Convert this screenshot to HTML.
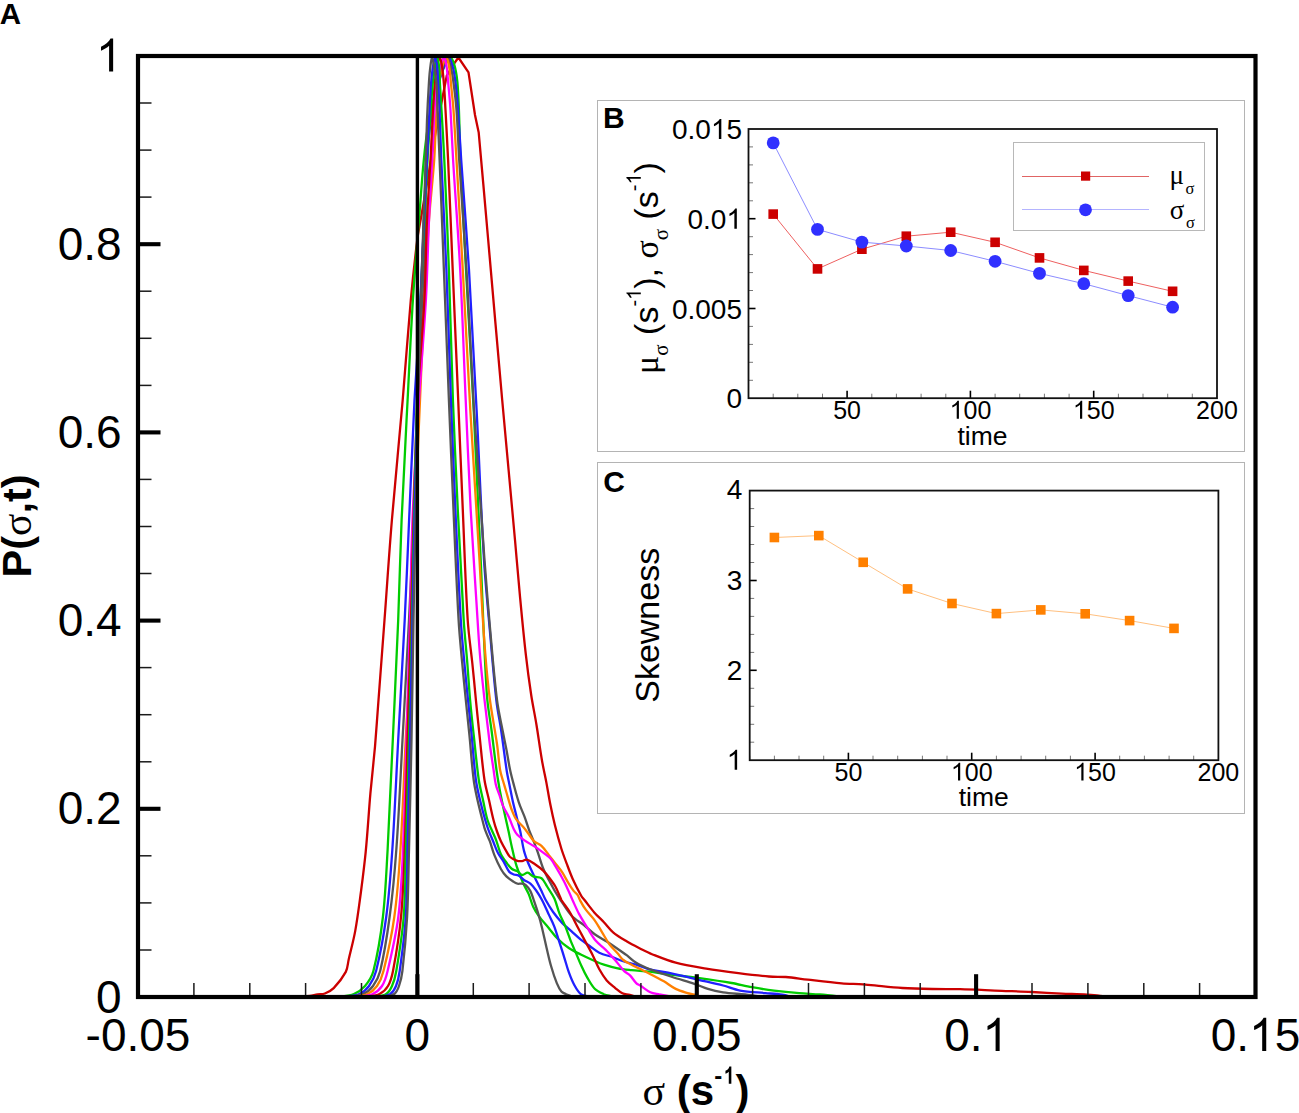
<!DOCTYPE html><html><head><meta charset="utf-8"><title>P(sigma,t)</title><style>html,body{margin:0;padding:0;background:#fff;}svg{display:block;}text{font-family:"Liberation Sans",sans-serif;}.sf{font-family:"Liberation Serif",serif;}</style></head><body>
<svg width="1299" height="1113" viewBox="0 0 1299 1113">
<rect x="0" y="0" width="1299" height="1113" fill="#fff"/>
<g fill="none" stroke-width="2.3" stroke-linejoin="round" stroke-linecap="round">
<path d="M290,996.8C293.3,996.7 296.7,996.6 300,996.5C303.3,996.4 306.7,996.4 310,996C312.5,995.7 315,994.8 317.5,994.4C319.9,994 322.6,994.4 324.9,993.5C328,992.3 331.3,990.5 333.7,988.1C338.3,983.3 342.7,977.7 345.8,971.9C347.7,968.3 347.7,963.9 348.6,959.9C350.8,950.3 353.4,940.8 355.2,931.1C357.6,918 359.2,904.7 361,891.5C362.7,878.3 364.4,865.1 365.7,851.8C367.6,832.4 368.7,812.9 370.4,793.4C371.8,777.8 373.6,762.3 375,746.7C376.3,731.1 377.3,715.6 378.5,700C380.5,673.3 382.5,646.7 384.5,620C387,586.7 389.1,553.3 391.9,520C395.2,480 399.3,440 402.7,400C405.6,366.7 407.8,333.3 410.8,300C412.7,279.3 414.9,258.6 417.5,238C418.5,230.3 420.2,222.7 421.5,215C424.7,196.7 427.9,178.3 431,160C432.7,150 434.3,140 436,130 L442.6,97 L446.7,75.9 L452.3,66.2 L458.4,57.5 L468.5,72.3 L475,115 L478.7,132.5C481.9,168.3 485.1,204.2 488.2,240C492.9,293.3 497.4,346.7 502.2,400C506.4,446.7 510.8,493.3 515,540C516.7,559.2 518.3,578.4 520.1,597.6C521.9,616.8 523.7,636 525.9,655.1C527.4,668.4 529.2,681.7 531.2,695C532.7,705 534.9,715 536.5,725C538.4,736.6 539.9,748.4 541.9,760C543.1,767.2 544.8,774.4 546.2,781.6C547.7,789.5 548.9,797.4 550.5,805.3C551.8,811.8 553.2,818.3 554.8,824.7C556.8,832.7 558.9,840.6 561.3,848.5C562.9,853.6 564.8,858.6 566.7,863.6C568.6,868.7 570.4,873.8 572.6,878.7C575.2,884.5 578.1,890.2 581.2,895.7C582.1,897.3 583.4,898.6 584.5,900C587.9,904.3 591.1,908.8 594.7,912.9C597.6,916.2 600.9,919 603.9,922.2C607,925.5 609.6,929.4 613.1,932.3C617.3,935.9 622.2,938.7 627,941.6C631.5,944.3 636.2,946.6 640.9,949C644.5,950.8 648.2,952.7 652,954.2C659.8,957.3 667.6,960.6 675.7,962.7C685.7,965.4 696,966.9 706.2,968.6C716.9,970.4 727.6,971.8 738.4,973.2C748.5,974.5 758.7,975.7 768.9,976.5C774.5,977 780.2,976.6 785.8,977C793.2,977.6 800.5,978.8 807.8,979.6C819.1,980.9 830.4,982.3 841.7,983.3C848.8,983.9 856,983.8 863.1,984.3C869.3,984.7 875.4,985.6 881.6,986.2C888.5,986.9 895.5,987.6 902.4,988C912.4,988.6 922.4,988.8 932.4,989C941.6,989.2 950.9,989 960.1,989.2C974,989.6 987.8,990.3 1001.7,990.8C1011.7,991.2 1021.7,991.5 1031.7,992C1041.7,992.5 1051.7,993.1 1061.7,993.6C1070.2,994 1078.6,994.2 1087.1,994.7C1091.4,994.9 1095.7,995.4 1100,995.8C1103.3,996.1 1106.7,996.6 1110,997" stroke="#cc0000"/>
<path d="M330,996.8C333.3,996.7 336.7,996.9 340,996.5C344.7,996 349.7,995.8 353.9,994C358,992.3 362.1,989.4 365,986C368.6,981.7 372,976.5 373.4,971C377.9,953.5 380.8,935.1 382.9,917C385.5,894.8 386.3,872.4 387.6,850C389.6,813.4 391.1,776.7 392.8,740C394.6,700 396.6,660 398.2,620C399.5,586.7 400.2,553.3 401.6,520C403.3,480 405.5,440 407.6,400C409.3,366.7 410.8,333.3 412.9,300C414.6,273.3 416.9,246.7 419,220C420.6,200 421.8,180 423.8,160C425.1,146.6 426.7,133.2 429,120C430.8,109.9 433.3,99.9 436,90C437.7,83.9 439.5,77.8 442,72C444.2,67 447.6,57.5 450,57.5C452.3,57.5 455,66.9 456,72C457.8,81.1 458,90.6 458.5,100C459.5,120 459.6,140 460.5,160C462.1,196.7 464.1,233.3 466,270C468.5,316.7 471.3,363.3 473.7,410C476.2,460 478.4,510 480.7,560C482.8,605 484,650.1 486.9,695C487.6,706.7 490,718.3 491.5,730C493.2,743.3 494.7,756.7 496.5,770C497.3,776 498.3,782 499.4,788C500.2,792.8 501.2,797.5 502.2,802.3C503.2,807.1 504.3,811.9 505.3,816.7C506.4,821.5 507.5,826.3 508.5,831.1C509.7,836.6 510.7,842.2 512,847.7C513.4,853.9 514.7,860.1 516.6,866.2C518.4,871.8 520.6,877.4 523,882.8C524.6,886.6 527,890.1 528.6,893.9C530.4,898.1 531.3,902.7 533.2,906.8C534.8,910.3 536.9,913.5 539.2,916.6C542,920.5 545.4,924 548.5,927.7C551.6,931.4 554.3,935.4 557.7,938.8C561.1,942.2 564.8,945.3 568.8,948C572.5,950.5 576.7,952.5 580.8,954.5C585.4,956.8 590,958.9 594.7,961C597.7,962.3 600.8,963.7 603.9,964.7C608.5,966.2 613.1,967.5 617.8,968.4C622.3,969.3 627,969.7 631.6,970.2C637.7,970.8 643.9,970.9 650,971.6C654.7,972.1 659.3,973.1 663.9,973.7C675.2,975.2 686.5,976.4 697.7,977.9C709,979.5 720.3,981.1 731.6,983C738.4,984.2 745.1,986 751.9,987.2C759.2,988.5 766.6,989.7 774,990.6C782.4,991.6 790.9,992.4 799.3,993.1C806.2,993.7 813.1,993.9 820,994.5C826.7,995.1 833.3,995.8 840,996.5" stroke="#00cc00"/>
<path d="M335,996.8C338.3,996.7 341.7,996.9 345,996.5C349.8,995.9 355,995.9 359.3,994C363,992.4 366.6,989.3 369,986C372.2,981.6 374.8,976.3 376.1,971C380.5,953.3 383.8,935.1 386.2,917C389.2,894.8 390.8,872.4 392.3,850C394.8,813.4 396.2,776.7 398.2,740C400.4,700 402.7,660 404.7,620C406.4,586.7 407.6,553.3 409.1,520C410.9,480 412.4,440 414.5,400C416.3,366.6 419,333.4 420.8,300C422.2,273.4 422.9,246.7 424,220C424.8,200 425.1,180 426.5,160C427.4,146.6 429,133.3 431,120C432.5,109.9 434.7,99.9 437,90C438.4,83.9 439.9,77.9 442,72C443.8,67 446.4,58.3 448.5,57.5C450,56.9 452,64.3 453,68C454.5,73.5 455.1,79.3 455.8,85C456.8,93.3 457.4,101.7 458,110C459.2,126.7 460.1,143.3 461.2,160C463.7,196.7 466.7,233.3 469,270C471.9,316.6 474.2,363.3 476.6,410C479.2,460 481,510 484,560C485.4,583.4 487.8,606.7 489.8,630C491.9,653.3 493.7,676.7 496.3,700C497.4,710.1 499.6,720 501.1,730C503.1,743.3 504.6,756.7 506.6,770C507.3,774.8 508.4,779.6 509.4,784.4C510.6,790.4 511.7,796.4 513,802.3C514.1,807.1 515.4,811.9 516.6,816.7C517.8,821.5 519.2,826.3 520.2,831.1C521.6,837.4 522.3,843.8 523.8,850C524.6,853.4 525.8,856.7 527,860C528,862.7 529.2,865.4 530.4,868C532.2,872 534.1,876 536,880C537.8,883.7 539.7,887.4 541.5,891.1C542.9,894.1 544.1,897.1 545.7,900C548,904.1 550.4,908.2 553.1,912C555.9,915.9 559,919.6 562.3,923.1C565.2,926.1 568.5,928.6 571.6,931.4C574.7,934.2 577.6,937.1 580.8,939.7C583.7,942 586.9,944 590,946.2C593.1,948.4 595.9,951.1 599.3,952.7C603.6,954.8 608.5,955.7 613.1,957.3C616.2,958.4 619.2,960 622.4,961C626.9,962.5 631.7,963.3 636.2,964.7C639.9,965.8 643.3,967.7 647,968.6C655.3,970.7 663.9,971.9 672.3,973.7C680.8,975.5 689.2,977.6 697.7,979.6C706.2,981.6 714.7,983.3 723.1,985.5C728.8,987 734.3,989.6 740.1,990.6C748.4,992.1 757,992.3 765.5,993.1C771.1,993.6 776.8,993.9 782.4,994.7C785.6,995.2 788.8,996.2 792,997" stroke="#2020ff"/>
<path d="M340,996.8C343.3,996.7 346.7,996.9 350,996.5C354.5,996 359.3,995.8 363.3,994C367,992.3 370.6,989.3 373,986C376.2,981.6 378.9,976.4 380.2,971C384.4,953.4 387.2,935.1 389.6,917C392.6,894.8 394.7,872.4 396.3,850C399,813.4 400.5,776.7 402.5,740C404.7,700 407,660 409,620C410.7,586.7 412.1,553.3 413.5,520C415.2,480 416.8,440 418.5,400C419.9,366.7 421.7,333.3 423,300C424,273.3 424.9,246.7 425.5,220C425.9,200 425.1,180 426,160C426.6,146.6 428.1,133.2 430,120C431.4,109.9 433.7,99.9 436,90C437.4,83.9 439,77.9 441,72C442.7,67.1 445.1,58.3 447,57.5C448.4,56.9 450.1,64.4 451,68C452.4,73.5 453.1,79.3 453.8,85C454.9,93.3 455.9,101.6 456.5,110C457.7,126.6 458.2,143.3 459.2,160C461.5,196.7 464.3,233.3 466.5,270C469.3,316.7 471.1,363.4 474,410C477.1,460 480.8,510 484.5,560C486.2,583.3 488.1,606.7 490.2,630C492.3,653.3 494.1,676.7 497,700C498.2,710.1 500.6,720 502.5,730C503.8,736.7 505.2,743.3 506.5,750C507.8,756.7 508.7,763.4 510.1,770C511.1,774.8 512.4,779.6 513.7,784.4C515.3,790.4 516.8,796.4 518.8,802.3C520.4,807.2 522.7,811.9 524.5,816.7C526.3,821.5 527.7,826.3 529.5,831.1C530.9,834.7 532.5,838.2 533.9,841.8C535.3,845.3 536.6,848.8 537.8,852.3C539.7,857.8 541.2,863.6 543.4,869C544.9,872.8 547,876.4 548.9,880C551,884 553.1,888.1 555.4,892C557,894.7 558.7,897.4 560.5,900C564.1,905.3 567.3,911.1 571.6,915.7C575,919.4 579.7,921.8 583.6,924.9C587.4,927.9 590.8,931.4 594.7,934.2C598.5,936.9 602.7,939.1 606.7,941.6C610.4,944 614.1,946.5 617.8,949C620.9,951.1 624,953.2 627,955.4C630.1,957.8 632.9,960.8 636.2,962.8C640.5,965.4 645.3,967.4 650,969.3C657.3,972.2 664.8,974.6 672.3,977C679.6,979.4 687.1,981.4 694.4,983.8C699,985.3 703.3,987.5 707.9,988.9C712.9,990.4 718,991.5 723.1,992.3C730.4,993.4 737.8,993.7 745.2,994.5C750.1,995.1 755.1,995.8 760,996.5" stroke="#555555"/>
<path d="M345,996.8C348.3,996.7 351.7,996.9 355,996.5C359.2,996 363.7,995.8 367.4,994C371,992.3 374.7,989.3 377,986C380,981.7 382.2,976.3 383.5,971C387.9,953.3 391.8,935.2 394.3,917C397.4,894.8 399,872.4 400.4,850C402.8,813.4 403.9,776.7 405.7,740C407.7,700 410.3,660 412,620C413.4,586.7 413.8,553.3 415,520C416.5,480 418.3,440 420,400C421.4,366.7 422.8,333.3 424.5,300C425.8,273.3 427.2,246.6 429,220C430.4,200 432.8,180 434.2,160C435.1,146.7 435.3,133.3 436,120C436.5,110 437,100 438,90C438.6,84 439.6,77.9 441,72C442.2,67.1 444.3,58.8 446,57.5C447,56.8 448.5,63.1 449,66C450.2,72.2 450.5,78.7 451.1,85C452,93.3 452.9,101.7 453.5,110C454.7,126.7 455.5,143.3 456.5,160C458.6,196.7 460.8,233.3 462.8,270C465.4,316.7 467.6,363.3 470.3,410C473.2,460 476.5,510 479.5,560C480.3,573.3 480.9,586.7 481.7,600C482.8,618 483.8,636 485.3,654C486.5,669 487.9,684.1 489.8,699C491.8,714.1 494.8,729 497,744C498.3,752.6 498.7,761.4 500.1,770C500.7,773.7 502,777.2 503,780.8C504.2,784.9 505.4,788.9 506.6,793C508.2,798.5 509.7,804.1 511.6,809.5C512.8,812.7 514,816.1 515.9,818.9C517.8,821.8 520.8,824.1 523.1,826.8C524.9,828.9 526.5,831 528.1,833.2C530.1,835.8 531.6,838.9 533.9,841.1C536,843.1 539.3,843.9 541.5,845.9C544.3,848.5 546.5,852 548.9,855.1C551.1,857.9 553.2,860.6 555.4,863.4C557.5,866.2 559.9,868.8 561.8,871.7C564.2,875.3 566,879.2 568.3,882.8C570,885.6 571.8,888.5 573.8,891.1C574.9,892.5 576.5,893.4 577.5,894.8C578.6,896.4 579,898.3 579.9,900C581.6,903.1 583.3,906.3 585.4,909.2C588.2,913.1 591.9,916.4 594.7,920.3C597.4,924.1 599.6,928.3 602.1,932.3C604.5,936.3 606.6,940.5 609.4,944.3C611.9,947.6 615,950.5 617.8,953.6C619.7,955.7 621.1,958.3 623.3,960C625.7,962 628.8,963.2 631.6,964.7C634.7,966.3 637.8,967.8 640.9,969.3C643.9,970.8 647,972.3 650,973.9C654.7,976.3 659.4,978.7 663.9,981.3C667.9,983.7 671.5,986.8 675.7,988.9C679.4,990.8 683.6,991.9 687.6,993.1C689.8,993.8 692.2,994 694.4,994.7C696.3,995.3 698.1,996.2 700,997" stroke="#ff8000"/>
<path d="M350,996.8C353.3,996.7 356.7,996.9 360,996.5C364.3,996 368.9,995.8 372.7,994C376.3,992.3 379.8,989.3 382,986C384.8,981.7 386.4,976.2 387.6,971C391.8,953.2 396,935.2 398.3,917C401.1,894.8 402,872.4 403,850C404.7,813.4 405.4,776.7 406.5,740C407.7,700 408.9,660 410,620C410.9,586.7 411.1,553.3 412.5,520C414.1,480 416.6,440 419,400C421,366.7 424,333.4 425.9,300C427.4,273.4 427.8,246.7 429,220C429.9,200 431.2,180 432.2,160C432.9,146.7 433.3,133.3 434,120C434.5,110 435,100 436,90C436.6,84 437.6,77.9 439,72C440.2,67.1 442.4,58.8 444,57.5C444.9,56.8 446,63.1 446.5,66C447.5,72.3 447.8,78.7 448.4,85C449.2,93.3 450,101.7 450.5,110C451.5,126.7 452.1,143.3 453.1,160C455.3,196.7 458.3,233.3 460.2,270C462.5,313.3 463.8,356.7 465.7,400C467.3,436.7 468.8,473.3 470.7,510C472.3,540 474.4,570 476.3,600C477.5,618 478.4,636 479.9,654C481.1,669 482.8,684 484.4,699C486.1,714 487.9,729 489.8,744C490.9,752.7 492.3,761.3 493.6,770C494.3,774.8 494.7,779.7 495.8,784.4C496.6,788 498.2,791.5 499.4,795C500.6,798.6 501.5,802.4 503,805.9C504.6,809.6 507,813 508.7,816.7C510.6,820.7 511.8,824.9 513.7,828.9C514.7,830.9 515.8,833.1 517.3,834.7C519.4,836.9 522,838.7 524.5,840.4C527.5,842.5 530.8,844.2 533.9,846.1C535.2,846.9 536.5,847.7 537.8,848.6C540.3,850.4 542.8,852.3 545.2,854.2C547.1,855.7 549.2,857 550.7,858.8C552.6,861 553.9,863.7 555.4,866.2C557.6,869.9 559.8,873.6 561.8,877.3C563.5,880.3 565,883.4 566.5,886.5C568.1,889.9 569.6,893.3 571.1,896.7C571.6,897.8 572,898.9 572.5,900C574.6,904.6 576.6,909.4 579,913.9C581.5,918.6 584.5,923.1 587.3,927.7C590,932 592.4,936.7 595.6,940.6C598.5,944.1 602.5,946.7 605.7,949.9C608.9,953.1 612,956.6 615,960C618.2,963.6 620.9,967.7 624.2,971.1C625.9,972.8 628.3,973.7 630,975.4C632.3,977.7 633.9,980.8 636.2,983.1C637.3,984.2 638.9,984.7 640.2,985.5C643.6,987.7 646.7,990.6 650.3,992.3C653.1,993.6 656.5,993.8 659.6,994.5C663.1,995.2 666.5,995.8 670,996.5" stroke="#ff00ff"/>
<path d="M358,996.8C361.3,996.7 364.7,996.9 368,996.5C371.9,996 376.2,995.8 379.5,994C382.8,992.3 386.1,989.3 388,986C390.6,981.6 392,976.2 393,971C396.4,953.2 399.3,935.1 401,917C403.2,894.8 403.9,872.3 404.7,850C406,813.3 406.5,776.7 407.5,740C408.6,700 409.9,660 411,620C411.9,586.7 412.5,553.3 413.5,520C414.7,480 415.5,440 417.5,400C419.2,366.6 422.6,333.4 424.4,300C425.8,273.4 425.8,246.7 427,220C427.9,200 429.4,180 430.5,160C431.2,146.7 431.8,133.3 432.5,120C433.1,108.3 433.7,96.6 434.6,85C435,80 435.6,75 436.5,70C437.3,65.8 438.4,58.3 439.5,57.5C440.2,57 441.5,63.1 442,66C443,72.3 443.5,78.7 444,85C444.7,93.3 445,101.7 445.5,110C446.4,126.7 447.3,143.3 448.1,160C449.7,196.7 451.2,233.3 452.7,270C454.5,313.3 456.4,356.7 458.2,400C459.7,436.7 461.2,473.3 462.8,510C464.4,546.7 465.4,583.4 467.7,620C468.6,634.4 470.8,648.7 472.3,663C473.6,675.3 474.7,687.7 475.9,700C477.1,711.7 478.2,723.3 479.5,735C481.1,750 482.3,765.1 484.5,780C485.5,786.8 487.5,793.3 489,800C490.5,806.7 491.8,813.4 493.5,820C494.5,824.1 495.8,828.1 497.2,832C498.3,835.1 499.5,838.2 500.9,841.2C502.6,844.7 504.5,848.1 506.4,851.4C507.5,853.3 508.5,855.5 510.1,857C511.9,858.6 514.3,859.8 516.6,860.6C518.3,861.2 520.3,861.3 522.1,861.1C523.7,861 525.3,859.3 526.7,859.7C529.6,860.4 532.4,862.6 535,864.3C537.9,866.3 540.8,868.4 543.4,870.8C545.5,872.7 547.2,875 548.9,877.3C551.2,880.3 553.5,883.3 555.4,886.5C557.2,889.7 558.5,893.3 560,896.7C560.5,897.8 560.8,899 561.4,900C564,904.1 567.2,907.8 569.7,912C572.7,917.1 575.2,922.5 578,927.7C580.5,932.3 582.9,937 585.4,941.6C587.9,946.2 590.5,950.7 592.8,955.4C595.1,960 596.8,964.8 599.3,969.3C601.5,973.2 603.8,977 606.7,980.4C609.1,983.2 612.1,985.4 615,987.8C617.4,989.7 619.7,992 622.4,993.3C624.6,994.4 627.4,994.2 629.8,994.9C631.9,995.5 633.9,996.3 636,997" stroke="#cc0000"/>
<path d="M366,996.8C369.3,996.7 372.7,997 376,996.5C379.4,996 383.5,995.8 386.2,994C388.8,992.3 390.7,989 392,986C394.1,981.3 395.4,976.1 396.3,971C399.3,953.1 402.3,935.1 403.7,917C405.5,894.8 405.3,872.3 406,850C407.1,813.3 408,776.7 409,740C410,700 411.1,660 412,620C412.8,586.7 413.2,553.3 414,520C414.9,480 415.8,440 417,400C418,366.7 419.1,333.3 420.5,300C421.6,273.3 423.2,246.7 424.5,220C425.5,200 426.4,180 427.5,160C428.2,146.7 429.1,133.3 430,120C430.8,108.3 431.6,96.6 432.6,85C433.1,80 433.7,75 434.5,70C435.2,65.8 436.1,58.3 437,57.5C437.6,57 438.7,63.1 439,66C439.7,72.3 439.6,78.7 440,85C440.5,93.3 441,101.7 441.5,110C442.5,126.7 443.5,143.3 444.3,160C446,196.7 447.6,233.3 448.9,270C450.5,313.3 451.3,356.7 452.9,400C454.3,436.7 456,473.3 457.8,510C459.6,546.7 461.4,583.4 463.7,620C464.6,634.4 466.2,648.7 467.3,663C468.3,675.3 469,687.7 470.1,700C471.1,711.7 472.4,723.3 473.7,735C475.3,750 476.7,765.1 478.8,780C479.8,786.7 481.6,793.3 483,800C484.5,806.7 485.5,813.5 487.5,820C488.7,824.1 490.9,828 492.6,832C493.8,834.8 495.1,837.5 496.2,840.3C497.9,844.9 498.9,849.8 500.9,854.2C502.3,857.2 504.4,859.9 506.4,862.5C508.1,864.8 509.8,867.3 512,869C513.5,870.2 515.8,870.3 517.5,871.3C519.2,872.3 520.4,874.8 522.1,875C523.8,875.2 525.9,872.5 527.7,872.7C529.6,872.9 531.2,875.6 533.2,876.4C535.8,877.4 539.4,876.7 541.5,878.2C544,880 545.3,883.7 547.1,886.5C549.6,890.5 552.5,894.3 554.4,898.5C556.6,903.4 557.6,908.9 559.6,913.9C561.2,918 563.4,921.8 565.1,925.9C567.1,930.7 568.7,935.7 570.6,940.6C572.4,945 574.3,949.3 576.2,953.6C578,957.9 579.7,962.3 581.7,966.5C583.4,970.3 585.2,974 587.3,977.6C589.5,981.4 591.6,985.6 594.7,988.7C597.2,991.2 600.7,992.7 603.9,994.2C606.4,995.3 609.3,995.7 612,996.5" stroke="#00cc00"/>
<path d="M372,996.8C375,996.7 378.1,997 381,996.5C384.2,996 387.8,995.7 390.3,994C392.8,992.2 394.8,989 396,986C397.9,981.3 399,976.1 399.7,971C402.2,953.1 404.6,935.1 405.8,917C407.2,894.7 407,872.3 407.5,850C408.4,813.3 409.2,776.7 410,740C410.9,700 411.7,660 412.5,620C413.2,586.7 413.7,553.3 414.5,520C415.4,480 416.4,440 417.5,400C418.4,366.7 419.3,333.3 420.5,300C421.5,273.3 422.8,246.7 424,220C424.9,200 426,180 427,160C427.7,146.7 428.3,133.3 429,120C429.6,108.3 430.1,96.7 430.9,85C431.3,80 431.8,75 432.5,70C433.1,65.8 434.1,58.3 435,57.5C435.6,57 436.7,63.1 437,66C437.8,72.3 437.9,78.7 438.3,85C438.8,93.3 439.2,101.7 439.5,110C440.2,126.7 440.6,143.3 441.3,160C442.9,196.7 444.9,233.3 446.4,270C448.1,313.3 449.3,356.7 450.9,400C452.3,436.7 453.8,473.3 455.4,510C457.1,546.7 458.6,583.4 460.8,620C461.6,634.4 463.1,648.7 464.4,663C465.5,675.3 466.8,687.7 468,700C469.2,711.7 470.4,723.3 471.6,735C473.1,750 474,765.1 475.9,780C476.8,786.7 478.5,793.4 480,800C481.6,806.7 483.3,813.4 485.2,820C486.3,823.7 487.5,827.4 488.9,831.1C490.3,834.8 492,838.5 493.5,842.2C495,845.9 496.3,849.8 498.1,853.3C499.6,856.2 501.9,858.8 503.6,861.6C505.6,864.9 506.9,868.8 509.2,871.7C510.3,873.1 512.2,873.8 513.8,874.5C515.2,875.1 517.1,874.7 518.4,875.4C520.5,876.5 522,878.6 524,880C526,881.4 528.5,882.1 530.4,883.7C532.5,885.5 534.3,887.9 536,890.2C538.2,893.3 540.2,896.6 542,900C544.4,904.5 546.3,909.3 548.5,913.9C550.3,917.9 552.4,921.8 554,925.9C555.8,930.4 557.1,935.1 558.6,939.7C560.5,945.6 562.4,951.4 564.2,957.3C565.8,962.2 567,967.3 568.8,972.1C570.4,976.5 572.1,980.9 574.3,985C576.1,988.3 578.1,991.9 580.8,994.2C582.6,995.7 585.6,995.7 588,996.5" stroke="#2020ff"/>
<path d="M376,996.8C379,996.7 382.1,997 385,996.5C388.2,996 391.9,995.8 394.3,994C396.6,992.3 398,988.9 399,986C400.7,981.2 401.8,976.1 402.4,971C404.5,953.1 406.1,935 407.1,917C408.3,894.7 408.4,872.3 409,850C409.9,813.3 410.8,776.7 411.5,740C412.3,700 412.8,660 413.5,620C414.1,586.7 414.8,553.3 415.5,520C416.3,480 417,440 418,400C418.8,366.7 420,333.3 421,300C421.8,273.3 422.6,246.7 423.5,220C424.2,200 425.1,180 425.8,160C426.3,146.7 426.5,133.3 427,120C427.5,108.3 428.1,96.7 428.8,85C429.1,80 429.4,75 430,70C430.5,65.8 431.2,58.3 432,57.5C432.5,57 433.5,63.1 434,66C435.1,72.3 436.1,78.6 436.6,85C437.3,93.3 437.2,101.7 437.5,110C438.2,126.7 438.9,143.3 439.6,160C441.1,196.7 442.5,233.3 443.9,270C445.6,313.3 447.2,356.7 448.9,400C450.4,436.7 451.9,473.3 453.5,510C455.1,546.7 456.5,583.4 458.6,620C459.4,634.4 460.9,648.7 462.2,663C463.3,675.3 464.6,687.7 465.8,700C467,711.7 468.2,723.3 469.4,735C470.9,750 471.8,765.1 473.7,780C474.5,786.7 476.1,793.4 477.5,800C479,806.7 480.7,813.3 482.4,820C483.3,823.4 484,826.9 485.2,830.2C486.5,833.9 488.4,837.5 489.8,841.2C491.5,845.8 492.6,850.6 494.4,855.1C496.3,859.8 498.4,864.6 500.9,869C502.4,871.7 504.2,874.2 506.4,876.4C508.5,878.5 511.2,880.2 513.8,881.9C514.9,882.7 516.2,883.4 517.5,883.7C519,884 520.6,883.4 522.1,883.7C523.4,883.9 524.8,884.3 525.8,885.1C527.6,886.7 529.2,888.9 530.4,891.1C531.9,893.9 532.7,897 533.7,900C535.3,904.6 536.9,909.2 538.3,913.9C539.7,918.5 540.9,923.1 542,927.7C543.6,934.4 545,941.2 546.6,948C548.1,954.2 549.4,960.4 551.2,966.5C552.8,972.1 554.6,977.7 556.8,983.1C558,986 559.4,989.1 561.4,991.5C562.5,992.8 564.4,993.4 566,994.2C567.9,995.1 570,995.7 572,996.5" stroke="#555555"/>
</g>
<line x1="417.4" y1="56" x2="417.4" y2="997" stroke="#000" stroke-width="3.4"/>
<line x1="193.9" y1="997" x2="193.9" y2="983" stroke="#1a1a1a" stroke-width="1.5"/><line x1="249.8" y1="997" x2="249.8" y2="983" stroke="#1a1a1a" stroke-width="1.5"/><line x1="305.6" y1="997" x2="305.6" y2="983" stroke="#1a1a1a" stroke-width="1.5"/><line x1="361.5" y1="997" x2="361.5" y2="983" stroke="#1a1a1a" stroke-width="1.5"/><line x1="417.4" y1="997" x2="417.4" y2="974.2" stroke="#000" stroke-width="4.1"/><line x1="473.3" y1="997" x2="473.3" y2="983" stroke="#1a1a1a" stroke-width="1.5"/><line x1="529.1" y1="997" x2="529.1" y2="983" stroke="#1a1a1a" stroke-width="1.5"/><line x1="585" y1="997" x2="585" y2="983" stroke="#1a1a1a" stroke-width="1.5"/><line x1="640.9" y1="997" x2="640.9" y2="983" stroke="#1a1a1a" stroke-width="1.5"/><line x1="696.8" y1="997" x2="696.8" y2="974.2" stroke="#000" stroke-width="4.1"/><line x1="752.6" y1="997" x2="752.6" y2="983" stroke="#1a1a1a" stroke-width="1.5"/><line x1="808.5" y1="997" x2="808.5" y2="983" stroke="#1a1a1a" stroke-width="1.5"/><line x1="864.4" y1="997" x2="864.4" y2="983" stroke="#1a1a1a" stroke-width="1.5"/><line x1="920.2" y1="997" x2="920.2" y2="983" stroke="#1a1a1a" stroke-width="1.5"/><line x1="976.1" y1="997" x2="976.1" y2="974.2" stroke="#000" stroke-width="4.1"/><line x1="1032" y1="997" x2="1032" y2="983" stroke="#1a1a1a" stroke-width="1.5"/><line x1="1087.9" y1="997" x2="1087.9" y2="983" stroke="#1a1a1a" stroke-width="1.5"/><line x1="1143.8" y1="997" x2="1143.8" y2="983" stroke="#1a1a1a" stroke-width="1.5"/><line x1="1199.6" y1="997" x2="1199.6" y2="983" stroke="#1a1a1a" stroke-width="1.5"/><line x1="138" y1="950" x2="151.5" y2="950" stroke="#1a1a1a" stroke-width="1.5"/><line x1="138" y1="902.9" x2="151.5" y2="902.9" stroke="#1a1a1a" stroke-width="1.5"/><line x1="138" y1="855.8" x2="151.5" y2="855.8" stroke="#1a1a1a" stroke-width="1.5"/><line x1="138" y1="808.8" x2="160.5" y2="808.8" stroke="#000" stroke-width="4.1"/><line x1="138" y1="761.8" x2="151.5" y2="761.8" stroke="#1a1a1a" stroke-width="1.5"/><line x1="138" y1="714.7" x2="151.5" y2="714.7" stroke="#1a1a1a" stroke-width="1.5"/><line x1="138" y1="667.6" x2="151.5" y2="667.6" stroke="#1a1a1a" stroke-width="1.5"/><line x1="138" y1="620.6" x2="160.5" y2="620.6" stroke="#000" stroke-width="4.1"/><line x1="138" y1="573.5" x2="151.5" y2="573.5" stroke="#1a1a1a" stroke-width="1.5"/><line x1="138" y1="526.5" x2="151.5" y2="526.5" stroke="#1a1a1a" stroke-width="1.5"/><line x1="138" y1="479.4" x2="151.5" y2="479.4" stroke="#1a1a1a" stroke-width="1.5"/><line x1="138" y1="432.4" x2="160.5" y2="432.4" stroke="#000" stroke-width="4.1"/><line x1="138" y1="385.4" x2="151.5" y2="385.4" stroke="#1a1a1a" stroke-width="1.5"/><line x1="138" y1="338.3" x2="151.5" y2="338.3" stroke="#1a1a1a" stroke-width="1.5"/><line x1="138" y1="291.2" x2="151.5" y2="291.2" stroke="#1a1a1a" stroke-width="1.5"/><line x1="138" y1="244.2" x2="160.5" y2="244.2" stroke="#000" stroke-width="4.1"/><line x1="138" y1="197.1" x2="151.5" y2="197.1" stroke="#1a1a1a" stroke-width="1.5"/><line x1="138" y1="150.1" x2="151.5" y2="150.1" stroke="#1a1a1a" stroke-width="1.5"/><line x1="138" y1="103" x2="151.5" y2="103" stroke="#1a1a1a" stroke-width="1.5"/>
<rect x="138" y="56" width="1117.5" height="941" fill="none" stroke="#000" stroke-width="4.2"/>
<g font-size="46" fill="#000">
<g fill="#000"><text x="96" y="1012.6" font-size="46" font-weight="normal" style="font-family:'Liberation Sans',sans-serif;font-kerning:none" xml:space="preserve">0</text></g>
<g fill="#000"><text x="57.7" y="824.4" font-size="46" font-weight="normal" style="font-family:'Liberation Sans',sans-serif;font-kerning:none" xml:space="preserve">0.2</text></g>
<g fill="#000"><text x="57.7" y="636.2" font-size="46" font-weight="normal" style="font-family:'Liberation Sans',sans-serif;font-kerning:none" xml:space="preserve">0.4</text></g>
<g fill="#000"><text x="57.7" y="448" font-size="46" font-weight="normal" style="font-family:'Liberation Sans',sans-serif;font-kerning:none" xml:space="preserve">0.6</text></g>
<g fill="#000"><text x="57.7" y="259.8" font-size="46" font-weight="normal" style="font-family:'Liberation Sans',sans-serif;font-kerning:none" xml:space="preserve">0.8</text></g>
<g fill="#000"><path d="M763,0L583,0L583,1147C540,1106 483,1064 412,1023C342,982 279,951 223,930L223,1104C324,1151 412,1208 487,1276C562,1343 616,1409 647,1472L763,1472Z" transform="translate(96,71.6) scale(0.02246,-0.02246)"/></g>
<g fill="#000"><text x="85.6" y="1050.9" font-size="46" font-weight="normal" style="font-family:'Liberation Sans',sans-serif;font-kerning:none" xml:space="preserve">-0.05</text></g>
<g fill="#000"><text x="404.6" y="1050.9" font-size="46" font-weight="normal" style="font-family:'Liberation Sans',sans-serif;font-kerning:none" xml:space="preserve">0</text></g>
<g fill="#000"><text x="652" y="1050.9" font-size="46" font-weight="normal" style="font-family:'Liberation Sans',sans-serif;font-kerning:none" xml:space="preserve">0.05</text></g>
<g fill="#000"><text x="944.2" y="1050.9" font-size="46" font-weight="normal" style="font-family:'Liberation Sans',sans-serif;font-kerning:none" xml:space="preserve">0.</text><path d="M763,0L583,0L583,1147C540,1106 483,1064 412,1023C342,982 279,951 223,930L223,1104C324,1151 412,1208 487,1276C562,1343 616,1409 647,1472L763,1472Z" transform="translate(982.5,1050.9) scale(0.02246,-0.02246)"/></g>
<g fill="#000"><text x="1210.7" y="1050.9" font-size="46" font-weight="normal" style="font-family:'Liberation Sans',sans-serif;font-kerning:none" xml:space="preserve">0.</text><path d="M763,0L583,0L583,1147C540,1106 483,1064 412,1023C342,982 279,951 223,930L223,1104C324,1151 412,1208 487,1276C562,1343 616,1409 647,1472L763,1472Z" transform="translate(1249.1,1050.9) scale(0.02246,-0.02246)"/><text x="1274.7" y="1050.9" font-size="46" font-weight="normal" style="font-family:'Liberation Sans',sans-serif;font-kerning:none" xml:space="preserve">5</text></g>
</g>
<text x="-0.3" y="23.9" font-size="29.5" font-weight="bold">A</text>
<g fill="#000"><text x="642.5" y="1104.7" font-size="42" font-weight="normal" style="font-family:'Liberation Serif',serif;font-kerning:none" xml:space="preserve">σ</text><text x="665.2" y="1104.7" font-size="42" font-weight="bold" style="font-family:'Liberation Sans',sans-serif;font-kerning:none" xml:space="preserve"> (s</text><text x="714.2" y="1083.7" font-size="24" font-weight="bold" style="font-family:'Liberation Sans',sans-serif;font-kerning:none" xml:space="preserve">-</text><path d="M780,0L561,0L561,1025C481,950 387,894 278,858L278,1105C335,1124 398,1159 466,1212C534,1265 585,1350 610,1466L780,1466Z" transform="translate(722.2,1083.7) scale(0.01172,-0.01172)"/><text x="735.5" y="1104.7" font-size="42" font-weight="bold" style="font-family:'Liberation Sans',sans-serif;font-kerning:none" xml:space="preserve">)</text></g>
<g fill="#000" transform="translate(31,526) rotate(-90)"><text x="-51.5" y="0" font-size="41.5" font-weight="bold" style="font-family:'Liberation Sans',sans-serif;font-kerning:none" xml:space="preserve">P(</text><text x="-10" y="0" font-size="41.5" font-weight="normal" style="font-family:'Liberation Serif',serif;font-kerning:none" xml:space="preserve">σ</text><text x="12.4" y="0" font-size="41.5" font-weight="bold" style="font-family:'Liberation Sans',sans-serif;font-kerning:none" xml:space="preserve">,t)</text></g>
<rect x="597.5" y="100.5" width="647" height="351" fill="#fff" stroke="#b4b4b4" stroke-width="1"/>
<line x1="748.5" y1="398.2" x2="748.5" y2="393.7" stroke="#777" stroke-width="1"/><line x1="773.2" y1="398.2" x2="773.2" y2="393.7" stroke="#777" stroke-width="1"/><line x1="797.8" y1="398.2" x2="797.8" y2="393.7" stroke="#777" stroke-width="1"/><line x1="822.5" y1="398.2" x2="822.5" y2="393.7" stroke="#777" stroke-width="1"/><line x1="847.1" y1="398.2" x2="847.1" y2="390.7" stroke="#000" stroke-width="1.6"/><line x1="871.8" y1="398.2" x2="871.8" y2="393.7" stroke="#777" stroke-width="1"/><line x1="896.4" y1="398.2" x2="896.4" y2="393.7" stroke="#777" stroke-width="1"/><line x1="921.1" y1="398.2" x2="921.1" y2="393.7" stroke="#777" stroke-width="1"/><line x1="945.8" y1="398.2" x2="945.8" y2="393.7" stroke="#777" stroke-width="1"/><line x1="970.4" y1="398.2" x2="970.4" y2="390.7" stroke="#000" stroke-width="1.6"/><line x1="995.1" y1="398.2" x2="995.1" y2="393.7" stroke="#777" stroke-width="1"/><line x1="1019.7" y1="398.2" x2="1019.7" y2="393.7" stroke="#777" stroke-width="1"/><line x1="1044.4" y1="398.2" x2="1044.4" y2="393.7" stroke="#777" stroke-width="1"/><line x1="1069.1" y1="398.2" x2="1069.1" y2="393.7" stroke="#777" stroke-width="1"/><line x1="1093.7" y1="398.2" x2="1093.7" y2="390.7" stroke="#000" stroke-width="1.6"/><line x1="1118.4" y1="398.2" x2="1118.4" y2="393.7" stroke="#777" stroke-width="1"/><line x1="1143" y1="398.2" x2="1143" y2="393.7" stroke="#777" stroke-width="1"/><line x1="1167.7" y1="398.2" x2="1167.7" y2="393.7" stroke="#777" stroke-width="1"/><line x1="1192.3" y1="398.2" x2="1192.3" y2="393.7" stroke="#777" stroke-width="1"/><line x1="748.5" y1="380.3" x2="753.0" y2="380.3" stroke="#777" stroke-width="1"/><line x1="748.5" y1="362.3" x2="753.0" y2="362.3" stroke="#777" stroke-width="1"/><line x1="748.5" y1="344.4" x2="753.0" y2="344.4" stroke="#777" stroke-width="1"/><line x1="748.5" y1="326.4" x2="753.0" y2="326.4" stroke="#777" stroke-width="1"/><line x1="748.5" y1="308.5" x2="755.5" y2="308.5" stroke="#000" stroke-width="1.6"/><line x1="748.5" y1="290.5" x2="753.0" y2="290.5" stroke="#777" stroke-width="1"/><line x1="748.5" y1="272.6" x2="753.0" y2="272.6" stroke="#777" stroke-width="1"/><line x1="748.5" y1="254.6" x2="753.0" y2="254.6" stroke="#777" stroke-width="1"/><line x1="748.5" y1="236.7" x2="753.0" y2="236.7" stroke="#777" stroke-width="1"/><line x1="748.5" y1="218.7" x2="755.5" y2="218.7" stroke="#000" stroke-width="1.6"/><line x1="748.5" y1="200.8" x2="753.0" y2="200.8" stroke="#777" stroke-width="1"/><line x1="748.5" y1="182.8" x2="753.0" y2="182.8" stroke="#777" stroke-width="1"/><line x1="748.5" y1="164.9" x2="753.0" y2="164.9" stroke="#777" stroke-width="1"/><line x1="748.5" y1="146.9" x2="753.0" y2="146.9" stroke="#777" stroke-width="1"/>
<rect x="748.5" y="129" width="468.5" height="269.2" fill="none" stroke="#111" stroke-width="1.8"/>
<polyline fill="none" stroke="#ee6060" stroke-width="1" points="773.2,214.1 817.5,268.9 861.9,249.2 906.3,236.2 950.7,232.2 995.1,242.3 1039.5,257.9 1083.8,270.4 1128.2,281.1 1172.6,291.3"/>
<polyline fill="none" stroke="#8c8cff" stroke-width="1" points="773.2,142.9 817.5,229.4 861.9,242.1 906.3,246 950.7,250.5 995.1,261.3 1039.5,273.4 1083.8,283.7 1128.2,295.6 1172.6,307.2"/>
<rect x="768.4" y="209.3" width="9.6" height="9.6" fill="#cc0000"/>
<rect x="812.7" y="264.1" width="9.6" height="9.6" fill="#cc0000"/>
<rect x="857.1" y="244.4" width="9.6" height="9.6" fill="#cc0000"/>
<rect x="901.5" y="231.4" width="9.6" height="9.6" fill="#cc0000"/>
<rect x="945.9" y="227.4" width="9.6" height="9.6" fill="#cc0000"/>
<rect x="990.3" y="237.5" width="9.6" height="9.6" fill="#cc0000"/>
<rect x="1034.7" y="253.1" width="9.6" height="9.6" fill="#cc0000"/>
<rect x="1079" y="265.6" width="9.6" height="9.6" fill="#cc0000"/>
<rect x="1123.4" y="276.3" width="9.6" height="9.6" fill="#cc0000"/>
<rect x="1167.8" y="286.5" width="9.6" height="9.6" fill="#cc0000"/>
<circle cx="773.2" cy="142.9" r="6.4" fill="#3030ff"/>
<circle cx="817.5" cy="229.4" r="6.4" fill="#3030ff"/>
<circle cx="861.9" cy="242.1" r="6.4" fill="#3030ff"/>
<circle cx="906.3" cy="246" r="6.4" fill="#3030ff"/>
<circle cx="950.7" cy="250.5" r="6.4" fill="#3030ff"/>
<circle cx="995.1" cy="261.3" r="6.4" fill="#3030ff"/>
<circle cx="1039.5" cy="273.4" r="6.4" fill="#3030ff"/>
<circle cx="1083.8" cy="283.7" r="6.4" fill="#3030ff"/>
<circle cx="1128.2" cy="295.6" r="6.4" fill="#3030ff"/>
<circle cx="1172.6" cy="307.2" r="6.4" fill="#3030ff"/>
<rect x="1013.5" y="142.5" width="191" height="88" fill="#fff" stroke="#b8b8b8" stroke-width="1"/>
<line x1="1022" y1="176.5" x2="1149" y2="176.5" stroke="#e06464" stroke-width="1"/>
<rect x="1081" y="171.5" width="9.2" height="9.2" fill="#cc0000"/>
<line x1="1022" y1="209.5" x2="1149" y2="209.5" stroke="#b4b4ff" stroke-width="1"/>
<circle cx="1085.5" cy="209.8" r="6.4" fill="#3030ff"/>
<g fill="#000"><text x="1169.5" y="184.3" font-size="27" font-weight="normal" style="font-family:'Liberation Serif',serif;font-kerning:none" xml:space="preserve">μ</text><text x="1184" y="184.3" font-size="6" font-weight="normal" style="font-family:'Liberation Serif',serif;font-kerning:none" xml:space="preserve"> </text><text x="1185.5" y="193.8" font-size="16.5" font-weight="normal" style="font-family:'Liberation Serif',serif;font-kerning:none" xml:space="preserve">σ</text></g>
<g fill="#000"><text x="1169.8" y="218.7" font-size="27" font-weight="normal" style="font-family:'Liberation Serif',serif;font-kerning:none" xml:space="preserve">σ</text><text x="1184.4" y="218.7" font-size="6" font-weight="normal" style="font-family:'Liberation Serif',serif;font-kerning:none" xml:space="preserve"> </text><text x="1185.9" y="227.7" font-size="16.5" font-weight="normal" style="font-family:'Liberation Serif',serif;font-kerning:none" xml:space="preserve">σ</text></g>
<g font-size="28">
<g fill="#000"><text x="726.4" y="408.2" font-size="28" font-weight="normal" style="font-family:'Liberation Sans',sans-serif;font-kerning:none" xml:space="preserve">0</text></g>
<g fill="#000"><text x="671.9" y="318.5" font-size="28" font-weight="normal" style="font-family:'Liberation Sans',sans-serif;font-kerning:none" xml:space="preserve">0.005</text></g>
<g fill="#000"><text x="687.5" y="228.7" font-size="28" font-weight="normal" style="font-family:'Liberation Sans',sans-serif;font-kerning:none" xml:space="preserve">0.0</text><path d="M763,0L583,0L583,1147C540,1106 483,1064 412,1023C342,982 279,951 223,930L223,1104C324,1151 412,1208 487,1276C562,1343 616,1409 647,1472L763,1472Z" transform="translate(726.4,228.7) scale(0.01367,-0.01367)"/></g>
<g fill="#000"><text x="671.9" y="139" font-size="28" font-weight="normal" style="font-family:'Liberation Sans',sans-serif;font-kerning:none" xml:space="preserve">0.0</text><path d="M763,0L583,0L583,1147C540,1106 483,1064 412,1023C342,982 279,951 223,930L223,1104C324,1151 412,1208 487,1276C562,1343 616,1409 647,1472L763,1472Z" transform="translate(710.9,139) scale(0.01367,-0.01367)"/><text x="726.4" y="139" font-size="28" font-weight="normal" style="font-family:'Liberation Sans',sans-serif;font-kerning:none" xml:space="preserve">5</text></g>
</g><g font-size="25">
<g fill="#000"><text x="833.2" y="418.8" font-size="25" font-weight="normal" style="font-family:'Liberation Sans',sans-serif;font-kerning:none" xml:space="preserve">50</text></g>
<g fill="#000"><path d="M763,0L583,0L583,1147C540,1106 483,1064 412,1023C342,982 279,951 223,930L223,1104C324,1151 412,1208 487,1276C562,1343 616,1409 647,1472L763,1472Z" transform="translate(949.6,418.8) scale(0.01221,-0.01221)"/><text x="963.5" y="418.8" font-size="25" font-weight="normal" style="font-family:'Liberation Sans',sans-serif;font-kerning:none" xml:space="preserve">00</text></g>
<g fill="#000"><path d="M763,0L583,0L583,1147C540,1106 483,1064 412,1023C342,982 279,951 223,930L223,1104C324,1151 412,1208 487,1276C562,1343 616,1409 647,1472L763,1472Z" transform="translate(1072.9,418.8) scale(0.01221,-0.01221)"/><text x="1086.8" y="418.8" font-size="25" font-weight="normal" style="font-family:'Liberation Sans',sans-serif;font-kerning:none" xml:space="preserve">50</text></g>
<g fill="#000"><text x="1196.1" y="418.8" font-size="25" font-weight="normal" style="font-family:'Liberation Sans',sans-serif;font-kerning:none" xml:space="preserve">200</text></g>
</g>
<text x="982.5" y="445" font-size="26.5" text-anchor="middle">time</text>
<text x="603" y="127.6" font-size="30" font-weight="bold">B</text>
<g fill="#000" transform="translate(657.8,268) rotate(-90)"><text x="-105.9" y="0" font-size="34" font-weight="normal" style="font-family:'Liberation Serif',serif;font-kerning:none" xml:space="preserve">μ</text><text x="-87.7" y="10" font-size="21" font-weight="normal" style="font-family:'Liberation Serif',serif;font-kerning:none" xml:space="preserve">σ</text><text x="-76.4" y="0" font-size="34" font-weight="normal" style="font-family:'Liberation Sans',sans-serif;font-kerning:none" xml:space="preserve"> (s</text><text x="-38.6" y="-17" font-size="20" font-weight="normal" style="font-family:'Liberation Sans',sans-serif;font-kerning:none" xml:space="preserve">-</text><path d="M763,0L583,0L583,1147C540,1106 483,1064 412,1023C342,982 279,951 223,930L223,1104C324,1151 412,1208 487,1276C562,1343 616,1409 647,1472L763,1472Z" transform="translate(-31.9,-17) scale(0.00977,-0.00977)"/><text x="-20.8" y="0" font-size="34" font-weight="normal" style="font-family:'Liberation Sans',sans-serif;font-kerning:none" xml:space="preserve">), </text><text x="9.4" y="0" font-size="34" font-weight="normal" style="font-family:'Liberation Serif',serif;font-kerning:none" xml:space="preserve">σ</text><text x="27.7" y="10" font-size="21" font-weight="normal" style="font-family:'Liberation Serif',serif;font-kerning:none" xml:space="preserve">σ</text><text x="39" y="0" font-size="34" font-weight="normal" style="font-family:'Liberation Sans',sans-serif;font-kerning:none" xml:space="preserve"> (s</text><text x="76.8" y="-17" font-size="20" font-weight="normal" style="font-family:'Liberation Sans',sans-serif;font-kerning:none" xml:space="preserve">-</text><path d="M763,0L583,0L583,1147C540,1106 483,1064 412,1023C342,982 279,951 223,930L223,1104C324,1151 412,1208 487,1276C562,1343 616,1409 647,1472L763,1472Z" transform="translate(83.5,-17) scale(0.00977,-0.00977)"/><text x="94.6" y="0" font-size="34" font-weight="normal" style="font-family:'Liberation Sans',sans-serif;font-kerning:none" xml:space="preserve">)</text></g>
<rect x="597.5" y="462.5" width="647" height="351" fill="#fff" stroke="#b4b4b4" stroke-width="1"/>
<line x1="749.7" y1="760.2" x2="749.7" y2="755.7" stroke="#777" stroke-width="1"/><line x1="774.4" y1="760.2" x2="774.4" y2="755.7" stroke="#777" stroke-width="1"/><line x1="799" y1="760.2" x2="799" y2="755.7" stroke="#777" stroke-width="1"/><line x1="823.7" y1="760.2" x2="823.7" y2="755.7" stroke="#777" stroke-width="1"/><line x1="848.4" y1="760.2" x2="848.4" y2="752.7" stroke="#000" stroke-width="1.6"/><line x1="873" y1="760.2" x2="873" y2="755.7" stroke="#777" stroke-width="1"/><line x1="897.7" y1="760.2" x2="897.7" y2="755.7" stroke="#777" stroke-width="1"/><line x1="922.4" y1="760.2" x2="922.4" y2="755.7" stroke="#777" stroke-width="1"/><line x1="947" y1="760.2" x2="947" y2="755.7" stroke="#777" stroke-width="1"/><line x1="971.7" y1="760.2" x2="971.7" y2="752.7" stroke="#000" stroke-width="1.6"/><line x1="996.4" y1="760.2" x2="996.4" y2="755.7" stroke="#777" stroke-width="1"/><line x1="1021.1" y1="760.2" x2="1021.1" y2="755.7" stroke="#777" stroke-width="1"/><line x1="1045.7" y1="760.2" x2="1045.7" y2="755.7" stroke="#777" stroke-width="1"/><line x1="1070.4" y1="760.2" x2="1070.4" y2="755.7" stroke="#777" stroke-width="1"/><line x1="1095.1" y1="760.2" x2="1095.1" y2="752.7" stroke="#000" stroke-width="1.6"/><line x1="1119.7" y1="760.2" x2="1119.7" y2="755.7" stroke="#777" stroke-width="1"/><line x1="1144.4" y1="760.2" x2="1144.4" y2="755.7" stroke="#777" stroke-width="1"/><line x1="1169.1" y1="760.2" x2="1169.1" y2="755.7" stroke="#777" stroke-width="1"/><line x1="1193.7" y1="760.2" x2="1193.7" y2="755.7" stroke="#777" stroke-width="1"/><line x1="749.7" y1="742.2" x2="754.2" y2="742.2" stroke="#777" stroke-width="1"/><line x1="749.7" y1="724.3" x2="754.2" y2="724.3" stroke="#777" stroke-width="1"/><line x1="749.7" y1="706.3" x2="754.2" y2="706.3" stroke="#777" stroke-width="1"/><line x1="749.7" y1="688.3" x2="754.2" y2="688.3" stroke="#777" stroke-width="1"/><line x1="749.7" y1="670.3" x2="756.7" y2="670.3" stroke="#000" stroke-width="1.6"/><line x1="749.7" y1="652.4" x2="754.2" y2="652.4" stroke="#777" stroke-width="1"/><line x1="749.7" y1="634.4" x2="754.2" y2="634.4" stroke="#777" stroke-width="1"/><line x1="749.7" y1="616.4" x2="754.2" y2="616.4" stroke="#777" stroke-width="1"/><line x1="749.7" y1="598.4" x2="754.2" y2="598.4" stroke="#777" stroke-width="1"/><line x1="749.7" y1="580.5" x2="756.7" y2="580.5" stroke="#000" stroke-width="1.6"/><line x1="749.7" y1="562.5" x2="754.2" y2="562.5" stroke="#777" stroke-width="1"/><line x1="749.7" y1="544.5" x2="754.2" y2="544.5" stroke="#777" stroke-width="1"/><line x1="749.7" y1="526.5" x2="754.2" y2="526.5" stroke="#777" stroke-width="1"/><line x1="749.7" y1="508.6" x2="754.2" y2="508.6" stroke="#777" stroke-width="1"/>
<rect x="749.7" y="490.6" width="468.7" height="269.6" fill="none" stroke="#111" stroke-width="1.8"/>
<polyline fill="none" stroke="#ffc080" stroke-width="1" points="774.4,537.5 818.8,535.6 863.2,562.3 907.6,588.9 952,603.5 996.4,613.6 1040.8,609.9 1085.2,613.8 1129.6,620.6 1174,628.4"/>
<rect x="769.6" y="532.7" width="9.6" height="9.6" fill="#ff8000"/>
<rect x="814" y="530.8" width="9.6" height="9.6" fill="#ff8000"/>
<rect x="858.4" y="557.5" width="9.6" height="9.6" fill="#ff8000"/>
<rect x="902.8" y="584.1" width="9.6" height="9.6" fill="#ff8000"/>
<rect x="947.2" y="598.7" width="9.6" height="9.6" fill="#ff8000"/>
<rect x="991.6" y="608.8" width="9.6" height="9.6" fill="#ff8000"/>
<rect x="1036" y="605.1" width="9.6" height="9.6" fill="#ff8000"/>
<rect x="1080.4" y="609" width="9.6" height="9.6" fill="#ff8000"/>
<rect x="1124.8" y="615.8" width="9.6" height="9.6" fill="#ff8000"/>
<rect x="1169.2" y="623.6" width="9.6" height="9.6" fill="#ff8000"/>
<g font-size="28">
<g fill="#000"><path d="M763,0L583,0L583,1147C540,1106 483,1064 412,1023C342,982 279,951 223,930L223,1104C324,1151 412,1208 487,1276C562,1343 616,1409 647,1472L763,1472Z" transform="translate(726.7,769.8) scale(0.01367,-0.01367)"/></g>
<g fill="#000"><text x="726.7" y="680.3" font-size="28" font-weight="normal" style="font-family:'Liberation Sans',sans-serif;font-kerning:none" xml:space="preserve">2</text></g>
<g fill="#000"><text x="726.7" y="589.9" font-size="28" font-weight="normal" style="font-family:'Liberation Sans',sans-serif;font-kerning:none" xml:space="preserve">3</text></g>
<g fill="#000"><text x="726.7" y="499.3" font-size="28" font-weight="normal" style="font-family:'Liberation Sans',sans-serif;font-kerning:none" xml:space="preserve">4</text></g>
</g><g font-size="25">
<g fill="#000"><text x="834.5" y="780.6" font-size="25" font-weight="normal" style="font-family:'Liberation Sans',sans-serif;font-kerning:none" xml:space="preserve">50</text></g>
<g fill="#000"><path d="M763,0L583,0L583,1147C540,1106 483,1064 412,1023C342,982 279,951 223,930L223,1104C324,1151 412,1208 487,1276C562,1343 616,1409 647,1472L763,1472Z" transform="translate(950.9,780.6) scale(0.01221,-0.01221)"/><text x="964.8" y="780.6" font-size="25" font-weight="normal" style="font-family:'Liberation Sans',sans-serif;font-kerning:none" xml:space="preserve">00</text></g>
<g fill="#000"><path d="M763,0L583,0L583,1147C540,1106 483,1064 412,1023C342,982 279,951 223,930L223,1104C324,1151 412,1208 487,1276C562,1343 616,1409 647,1472L763,1472Z" transform="translate(1074.2,780.6) scale(0.01221,-0.01221)"/><text x="1088.1" y="780.6" font-size="25" font-weight="normal" style="font-family:'Liberation Sans',sans-serif;font-kerning:none" xml:space="preserve">50</text></g>
<g fill="#000"><text x="1197.5" y="780.6" font-size="25" font-weight="normal" style="font-family:'Liberation Sans',sans-serif;font-kerning:none" xml:space="preserve">200</text></g>
</g>
<text x="983.7" y="805.5" font-size="26.5" text-anchor="middle">time</text>
<text x="603.3" y="491.8" font-size="30" font-weight="bold">C</text>
<text transform="translate(658.9,625.3) rotate(-90)" font-size="34" text-anchor="middle">Skewness</text>
</svg></body></html>
